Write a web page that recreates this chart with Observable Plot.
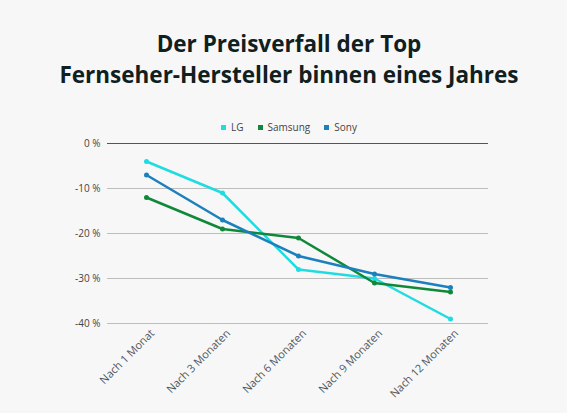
<!DOCTYPE html>
<html>
<head>
<meta charset="utf-8">
<script src="https://cdn.jsdelivr.net/npm/d3@7"></script>
<script src="https://cdn.jsdelivr.net/npm/@observablehq/plot@0.6"></script>
<style>
  html, body { margin: 0; padding: 0; background: #f7f7f7; }
  #wrap { position: relative; width: 567px; height: 413px; overflow: hidden; }
  #title {
    position: absolute; left: 0; top: 28px; width: 578px; text-align: center;
    font-family: "Open Sans", sans-serif; font-weight: 700; font-size: 22.5px;
    line-height: 31px; color: #10201f;
  }
  #legend {
    position: absolute; left: 0; top: 120px; width: 578px; text-align: center;
    font-family: "Open Sans", sans-serif; font-size: 10px; color: #444;
  }
  #legend span.item { margin: 0 7px; }
  #legend span.sw { display: inline-block; width: 5px; height: 5px; margin-right: 5px; vertical-align: 1px; }
  #chart { position: absolute; left: 0; top: 0; }
</style>
</head>
<body>
<div id="wrap">
  <div id="chart"></div>
  <div id="title">Der Preisverfall der Top<br>Fernseher-Hersteller binnen eines Jahres</div>
  <div id="legend"></div>
</div>
<script>
const periods = ["Nach 1 Monat", "Nach 3 Monaten", "Nach 6 Monaten", "Nach 9 Monaten", "Nach 12 Monaten"];
const brands = ["LG", "Samsung", "Sony"];
const colors = ["#20dce0", "#10883a", "#1b80bd"];
const lg = [-4, -11, -28, -30, -39];
const samsung = [-12, -19, -21, -31, -33];
const sony = [-7, -17, -25, -29, -32];
const yTicks = [0, -10, -20, -30, -40];

const series = [lg, samsung, sony];
const rows = [];
brands.forEach((b, i) => {
  periods.forEach((p, j) => rows.push({brand: b, period: p, value: series[i][j]}));
});

// legend (HTML)
d3.select("#legend").selectAll("span.item")
  .data(brands)
  .join("span")
  .attr("class", "item")
  .html((d, i) => `<span class="sw" style="background:${colors[i]}"></span>${d}`);

const chart = Plot.plot({
  width: 567,
  height: 413,
  marginTop: 143,
  marginBottom: 90,
  marginLeft: 107,
  marginRight: 79,
  style: {background: "transparent", fontFamily: "Open Sans, sans-serif", fontSize: "10px", color: "#444"},
  x: {type: "point", domain: periods, padding: 0.5, label: null},
  y: {domain: [-40, 0], label: null},
  color: {domain: brands, range: colors},
  marks: [
    Plot.ruleY(yTicks.filter(d => d !== 0), {stroke: "#bdbdbd", strokeWidth: 1}),
    Plot.ruleY([0], {stroke: "#555", strokeWidth: 1}),
    Plot.axisY(yTicks, {tickSize: 0, tickPadding: 7, tickFormat: d => `${d} %`, label: null}),
    Plot.axisX({tickSize: 0, tickRotate: -45, tickPadding: 8, dx: 6, fontSize: 11, fill: "#555", label: null}),
    Plot.line(rows, {x: "period", y: "value", z: "brand", stroke: "brand", strokeWidth: 2.5}),
    Plot.dot(rows, {x: "period", y: "value", fill: "brand", r: 2.5})
  ]
});
document.getElementById("chart").append(chart);
</script>
</body>
</html>
